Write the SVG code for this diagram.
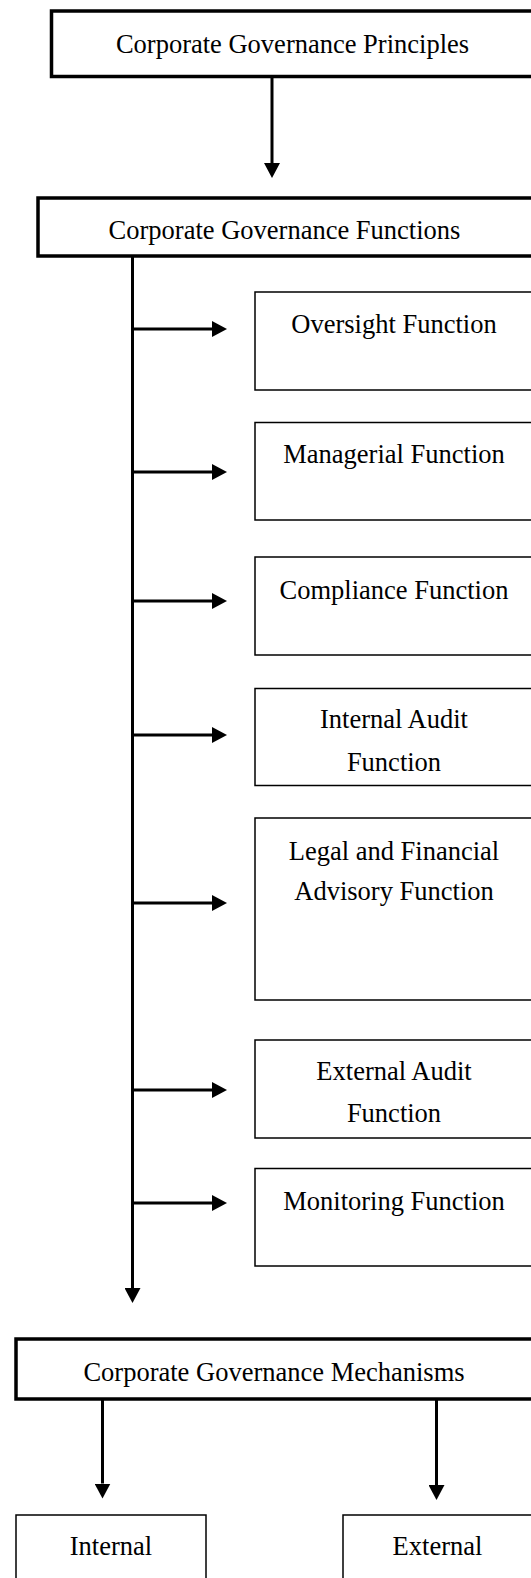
<svg xmlns="http://www.w3.org/2000/svg" width="531" height="1578" viewBox="0 0 531 1578">
<style>
  text { font-family: "Liberation Serif", "Times New Roman", serif; font-size: 26.5px; fill: #000; text-anchor: middle; }
  .thick { fill: #fff; stroke: #000; stroke-width: 3.5; }
  .thin { fill: #fff; stroke: #000; stroke-width: 1.5; }
  .conn { stroke: #000; stroke-width: 3; fill: none; }
</style>
<defs>
  <marker id="ah" markerUnits="userSpaceOnUse" viewBox="0 0 15 16" markerWidth="15" markerHeight="16" refX="0" refY="8" orient="auto">
    <path d="M0,0 L15,8 L0,16 z" fill="#000"/>
  </marker>
</defs>
<rect width="531" height="1578" fill="#fff"/>

<g id="connectors">
  <line class="conn" x1="272" y1="77" x2="272" y2="163" marker-end="url(#ah)"/>
  <line class="conn" x1="132.5" y1="256" x2="132.5" y2="1288" marker-end="url(#ah)"/>
  <line class="conn" x1="132.5" y1="329" x2="212" y2="329" marker-end="url(#ah)"/>
  <line class="conn" x1="132.5" y1="472" x2="212" y2="472" marker-end="url(#ah)"/>
  <line class="conn" x1="132.5" y1="601" x2="212" y2="601" marker-end="url(#ah)"/>
  <line class="conn" x1="132.5" y1="735" x2="212" y2="735" marker-end="url(#ah)"/>
  <line class="conn" x1="132.5" y1="903" x2="212" y2="903" marker-end="url(#ah)"/>
  <line class="conn" x1="132.5" y1="1090" x2="212" y2="1090" marker-end="url(#ah)"/>
  <line class="conn" x1="132.5" y1="1203" x2="212" y2="1203" marker-end="url(#ah)"/>
  <line class="conn" x1="102.5" y1="1399" x2="102.5" y2="1483.5" marker-end="url(#ah)"/>
  <line class="conn" x1="436.5" y1="1399" x2="436.5" y2="1485" marker-end="url(#ah)"/>
</g>

<g id="principles">
  <rect class="thick" x="51.5" y="11" width="500" height="65.5"/>
  <text x="292.5" y="53">Corporate Governance Principles</text>
</g>
<g id="functions">
  <rect class="thick" x="38" y="198" width="510" height="58"/>
  <text x="284.5" y="239">Corporate Governance Functions</text>
</g>
<g id="oversight">
  <rect class="thin" x="255" y="292" width="290" height="98"/>
  <text x="394" y="333">Oversight Function</text>
</g>
<g id="managerial">
  <rect class="thin" x="255" y="422.5" width="290" height="97.5"/>
  <text x="394" y="463">Managerial Function</text>
</g>
<g id="compliance">
  <rect class="thin" x="255" y="557" width="290" height="98"/>
  <text x="394" y="598.5">Compliance Function</text>
</g>
<g id="internal-audit">
  <rect class="thin" x="255" y="688.5" width="290" height="97"/>
  <text x="394" y="728">Internal Audit</text>
  <text x="394" y="771">Function</text>
</g>
<g id="legal">
  <rect class="thin" x="255" y="818" width="290" height="182"/>
  <text x="394" y="860">Legal and Financial</text>
  <text x="394" y="900">Advisory Function</text>
</g>
<g id="external-audit">
  <rect class="thin" x="255" y="1040" width="290" height="98"/>
  <text x="394" y="1080">External Audit</text>
  <text x="394" y="1122">Function</text>
</g>
<g id="monitoring">
  <rect class="thin" x="255" y="1168.5" width="290" height="97.5"/>
  <text x="394" y="1210">Monitoring Function</text>
</g>
<g id="mechanisms">
  <rect class="thick" x="16" y="1339" width="530" height="60"/>
  <text x="274" y="1380.5">Corporate Governance Mechanisms</text>
</g>
<g id="internal">
  <rect class="thin" x="16" y="1515" width="190" height="100"/>
  <text x="111" y="1555">Internal</text>
</g>
<g id="external">
  <rect class="thin" x="343" y="1515" width="210" height="100"/>
  <text x="437.5" y="1555">External</text>
</g>
</svg>
